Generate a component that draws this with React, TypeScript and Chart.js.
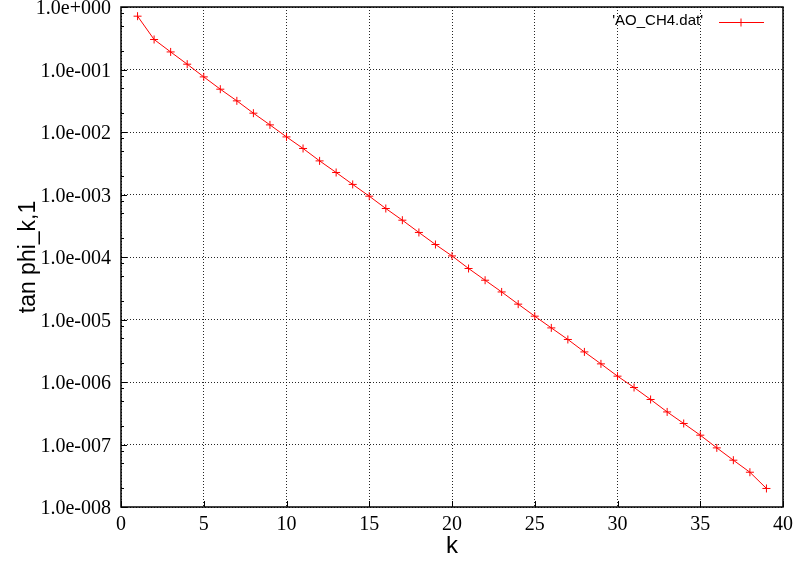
import { useEffect, useRef } from "react";
import { Chart, registerables } from "chart.js";

Chart.register(...registerables);

// k index of each sample
const kValues = [
  1, 2, 3, 4, 5, 6, 7, 8, 9, 10, 11, 12, 13, 14, 15, 16, 17, 18, 19, 20,
  21, 22, 23, 24, 25, 26, 27, 28, 29, 30, 31, 32, 33, 34, 35, 36, 37, 38, 39,
];

// tan phi_k,1 for each k, read from 'AO_CH4.dat'
const tanPhi = [
  0.713, 0.302, 0.191, 0.1216, 0.0762, 0.0484, 0.0315, 0.02, 0.013, 0.00835,
  0.00545, 0.00345, 0.00225, 0.00145, 9.4e-4, 5.97e-4, 3.88e-4, 2.47e-4,
  1.585e-4, 1.04e-4, 6.55e-5, 4.25e-5, 2.76e-5, 1.76e-5, 1.13e-5, 7.34e-6,
  4.79e-6, 3.03e-6, 1.95e-6, 1.24e-6, 8.17e-7, 5.25e-7, 3.32e-7, 2.17e-7,
  1.41e-7, 8.83e-8, 5.61e-8, 3.6e-8, 1.98e-8,
];

// axis ticks
const xTicks = [0, 5, 10, 15, 20, 25, 30, 35, 40];
const yDecades = [-8, -7, -6, -5, -4, -3, -2, -1, 0];
const yMinorFactors = [2, 5, 8];

const seriesLabel = "'AO_CH4.dat'";
const xTitle = "k";
const yTitle = "tan phi_k,1";

const RED = "#ff0000";
const SERIF = "'Liberation Serif', 'DejaVu Serif', serif";
const SANS = "'Liberation Sans', Arial, sans-serif";

function formatExp(v: number): string {
  const e = Math.round(Math.log10(v));
  const sign = e < 0 ? "-" : "+";
  return `1.0e${sign}${String(Math.abs(e)).padStart(3, "0")}`;
}

// inward tick marks, frame and the gnuplot-style key
const framePlugin = {
  id: "gnuplotFrame",
  afterDraw(chart: any) {
    const { ctx, chartArea, scales } = chart;
    const { left, right, top, bottom } = chartArea;
    const xs = scales.x;
    const ys = scales.y;
    ctx.save();
    ctx.strokeStyle = "#000";
    ctx.lineWidth = 1;
    ctx.beginPath();
    for (const v of xTicks) {
      const px = Math.round(xs.getPixelForValue(v)) + 0.5;
      ctx.moveTo(px, bottom);
      ctx.lineTo(px, bottom - 6);
    }
    for (const d of yDecades) {
      const py = Math.round(ys.getPixelForValue(Math.pow(10, d))) + 0.5;
      ctx.moveTo(left, py);
      ctx.lineTo(left + 6, py);
      if (d < 0) {
        for (const f of yMinorFactors) {
          const my = Math.round(ys.getPixelForValue(f * Math.pow(10, d))) + 0.5;
          ctx.moveTo(left, my);
          ctx.lineTo(left + 3, my);
        }
      }
    }
    ctx.stroke();

    ctx.lineWidth = 1.5;
    ctx.strokeRect(left, top, right - left, bottom - top);

    // key
    const keyY = 22;
    ctx.fillStyle = "#000";
    ctx.font = `15px ${SANS}`;
    ctx.textAlign = "right";
    ctx.textBaseline = "middle";
    ctx.fillText(seriesLabel, 703, keyY - 1);
    ctx.strokeStyle = RED;
    ctx.lineWidth = 1;
    ctx.beginPath();
    ctx.moveTo(719, keyY + 0.5);
    ctx.lineTo(764, keyY + 0.5);
    ctx.moveTo(737, keyY + 0.5);
    ctx.lineTo(745, keyY + 0.5);
    ctx.moveTo(741, keyY - 3.5);
    ctx.lineTo(741, keyY + 4.5);
    ctx.stroke();
    ctx.restore();
  },
};

export default function App() {
  const canvasRef = useRef<HTMLCanvasElement | null>(null);

  useEffect(() => {
    const canvas = canvasRef.current;
    if (!canvas) return;
    const points = kValues.map((k, i) => ({ x: k, y: tanPhi[i] }));

    const chart = new Chart(canvas, {
      type: "scatter",
      data: {
        datasets: [
          {
            label: seriesLabel,
            data: points,
            showLine: true,
            borderColor: RED,
            backgroundColor: RED,
            borderWidth: 1,
            pointStyle: "cross",
            pointRadius: 4,
            pointBorderWidth: 1,
            pointBorderColor: RED,
          },
        ],
      },
      options: {
        responsive: false,
        animation: false,
        devicePixelRatio: 1,
        layout: { padding: { top: 7, right: 13, left: 0, bottom: 0 } },
        plugins: {
          legend: { display: false },
          tooltip: { enabled: false },
        },
        scales: {
          x: {
            type: "linear",
            min: 0,
            max: 40,
            afterBuildTicks: (scale: any) => {
              scale.ticks = xTicks.map((v) => ({ value: v }));
            },
            afterFit: (scale: any) => {
              scale.height = 54;
              scale.paddingLeft = 0;
              scale.paddingRight = 0;
            },
            ticks: {
              autoSkip: false,
              maxRotation: 0,
              padding: 6,
              color: "#000",
              font: { family: SERIF, size: 20 },
              callback: (v: any) => String(v),
            },
            grid: {
              drawTicks: false,
              color: "rgba(0,0,0,0.85)",
              lineWidth: 1,
            },
            border: { display: false, dash: [1, 2] },
            title: {
              display: true,
              text: xTitle,
              color: "#000",
              font: { family: SANS, size: 24 },
              padding: { top: 0, bottom: 0 },
            },
          },
          y: {
            type: "logarithmic",
            min: 1e-8,
            max: 1,
            afterBuildTicks: (scale: any) => {
              scale.ticks = yDecades.map((d) => ({ value: Math.pow(10, d), major: true }));
            },
            afterFit: (scale: any) => {
              scale.width = 121;
              scale.paddingTop = 0;
              scale.paddingBottom = 0;
            },
            ticks: {
              autoSkip: false,
              padding: 10,
              labelOffset: 2,
              color: "#000",
              font: { family: SERIF, size: 20 },
              callback: (v: any) => formatExp(Number(v)),
            },
            grid: {
              drawTicks: false,
              color: "rgba(0,0,0,0.85)",
              lineWidth: 1,
            },
            border: { display: false, dash: [1, 2] },
            title: {
              display: true,
              text: yTitle,
              color: "#000",
              font: { family: SANS, size: 23 },
              padding: { top: 15, bottom: 0 },
            },
          },
        },
      },
      plugins: [framePlugin],
    });

    return () => chart.destroy();
  }, []);

  return (
    <div style={{ position: "fixed", left: 0, top: 0, width: 796, height: 561, background: "#fff" }}>
      <canvas ref={canvasRef} width={796} height={561} />
    </div>
  );
}
